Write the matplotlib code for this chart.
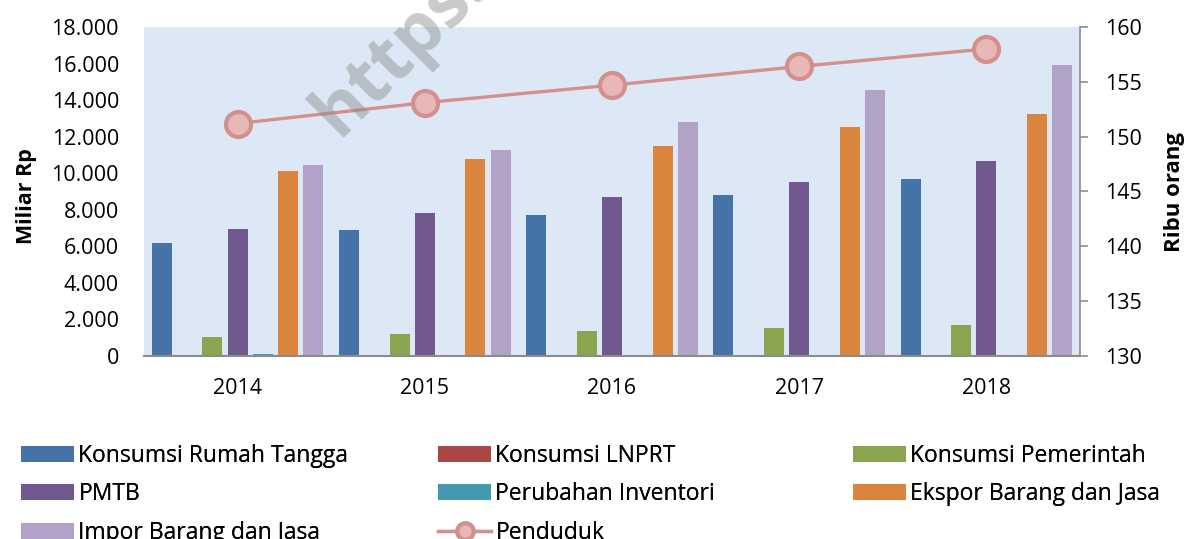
import numpy as np
import matplotlib.pyplot as plt
from matplotlib.ticker import FuncFormatter

years = ['2014', '2015', '2016', '2017', '2018']

rumah_tangga = [6180, 6880, 7700, 8810, 9680]
lnprt = [0, 0, 0, 0, 0]
pemerintah = [1020, 1200, 1370, 1530, 1700]
pmtb = [6950, 7800, 8720, 9500, 10670]
inventori = [130, 0, 0, 0, 0]
ekspor = [10120, 10760, 11500, 12530, 13240]
impor = [10450, 11270, 12800, 14550, 15900]

penduduk = [151.2, 153.1, 154.7, 156.4, 158.0]

series_names = ['Konsumsi Rumah Tangga', 'Konsumsi LNPRT', 'Konsumsi Pemerintah',
                'PMTB', 'Perubahan Inventori', 'Ekspor Barang dan Jasa',
                'Impor Barang dan Jasa']
colors = ['#4572a7', '#aa4643', '#89a54e', '#71588f', '#4198af', '#db843d', '#b3a2c7']


def main():
    plt.rcParams['font.family'] = ['Open Sans', 'DejaVu Sans']
    fig = plt.figure(figsize=(11.87, 5.39), dpi=100)
    ax = fig.add_axes([144 / 1187, 1 - 356 / 539, 936 / 1187, 329 / 539])
    ax.set_facecolor('#dce8f6')

    x = np.arange(len(years))
    slot = 0.135
    width = 0.107
    data = [rumah_tangga, lnprt, pemerintah, pmtb, inventori, ekspor, impor]
    bars = []
    for i, vals in enumerate(data):
        b = ax.bar(x + (i - 3) * slot, vals, width, color=colors[i], label=series_names[i], zorder=2)
        bars.append(b)

    ax.set_xlim(-0.5, 4.5)
    ax.set_ylim(0, 18000)
    ax.set_yticks(range(0, 18001, 2000))
    ax.yaxis.set_major_formatter(FuncFormatter(lambda v, p: f'{int(v):,}'.replace(',', '.')))
    ax.set_xticks(x)
    ax.set_xticklabels(years)
    ax.tick_params(axis='y', length=0, pad=18, labelsize=15.5)
    ax.tick_params(axis='x', length=0, pad=16, labelsize=15.5)
    for s in ['top', 'right', 'left']:
        ax.spines[s].set_visible(False)
    ax.spines['bottom'].set_color('#8c8c8c')
    ax.spines['bottom'].set_linewidth(1.5)
    ax.set_ylabel('Miliar Rp', fontsize=15.5, fontweight='bold')
    ax.yaxis.set_label_coords(-0.114, 0.486)

    ax2 = ax.twinx()
    line, = ax2.plot(x, penduduk, color='#d4908e', linewidth=2.4, marker='o', markersize=18,
                     markerfacecolor='#e8b8b7', markeredgecolor='#d4908e', markeredgewidth=3,
                     label='Penduduk', zorder=3)
    ax2.set_ylim(130, 160)
    ax2.set_yticks(range(130, 161, 5))
    ax2.tick_params(axis='y', length=6, width=1.2, color='#8c8c8c', pad=12, labelsize=15.5)
    for s in ['top', 'left', 'bottom']:
        ax2.spines[s].set_visible(False)
    ax2.spines['right'].set_color('#8c8c8c')
    ax2.spines['right'].set_linewidth(1.2)
    ax2.set_ylabel('Ribu orang', fontsize=16, fontweight='bold')
    ax2.yaxis.set_label_coords(1.0897, 0.5)

    # watermark
    fig.text(338 / 1187, 1 - 138 / 539, 'https://', fontsize=52, fontweight='bold',
             color='#8a8a8a', alpha=0.45, rotation=45, ha='left', va='baseline',
             rotation_mode='anchor')

    # legend laid out in three columns, row by row
    handles = [bars[0], bars[1], bars[2], bars[3], bars[4], bars[5], bars[6], line]
    labels = series_names + ['Penduduk']
    cols = [[0, 3, 6], [1, 4, 7], [2, 5]]
    col_x = [12, 429, 844]
    for cx, idx in zip(col_x, cols):
        leg = fig.legend([handles[i] for i in idx], [labels[i] for i in idx],
                         loc='upper left', bbox_to_anchor=(cx / 1187, 1 - 435 / 539),
                         frameon=False, fontsize=16.5, handlelength=2.3, handleheight=0.7,
                         handletextpad=0.2, labelspacing=0.62, borderaxespad=0,
                         markerscale=0.65)
        fig.add_artist(leg)

    fig.savefig('out.png', dpi=100)


if __name__ == "__main__":
    main()
